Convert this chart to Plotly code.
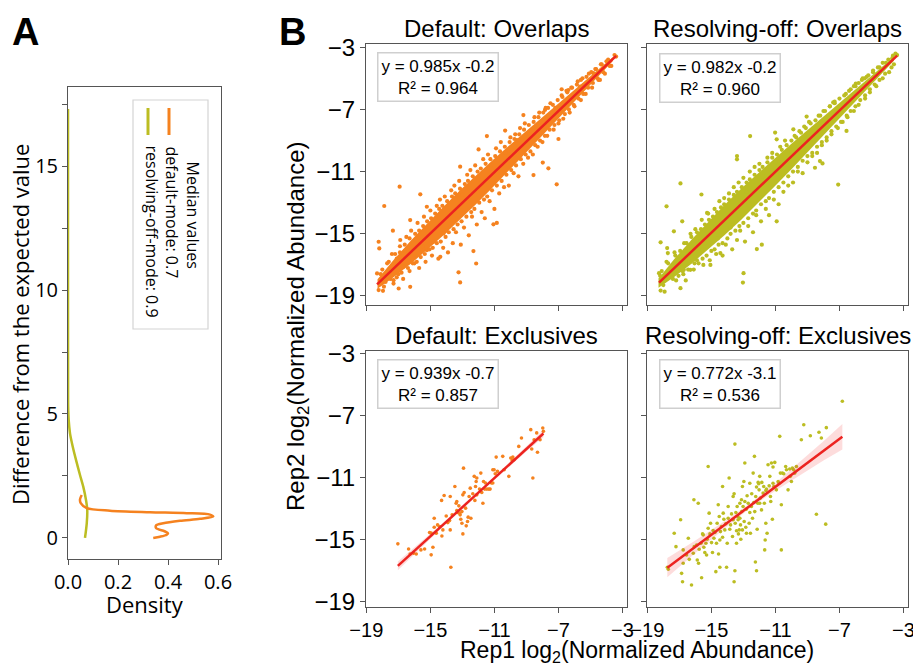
import plotly.graph_objects as go

# ---------------- Panel A data (density curves) ----------------
default_diff = [0.0, 0.05, 0.13, 0.19, 0.27, 0.39, 0.5, 0.59, 0.69, 0.77, 0.86, 0.94, 1.0, 1.04, 1.1, 1.2, 1.4, 1.56, 1.73]
default_density = [0.341, 0.368, 0.395, 0.40, 0.386, 0.353, 0.352, 0.381, 0.448, 0.528, 0.581, 0.568, 0.475, 0.328, 0.168, 0.075, 0.051, 0.048, 0.055]
resolving_diff = [0.0, 0.59, 1.13, 1.53, 2.07, 2.54, 3.15, 3.68, 4.22, 4.76, 5.29, 6.5, 8.0, 10.0, 13.0, 17.3]
resolving_density = [0.068, 0.075, 0.077, 0.072, 0.061, 0.048, 0.032, 0.019, 0.008, 0.0027, 0.0007, 0.0003, 0.0001, 0.0, 0.0, 0.0]
median_names = ["default-mode", "resolving-off-mode"]
median_values = [0.7, 0.9]

# ---------------- Panel B data ----------------
panel_titles = ["Default: Overlaps", "Resolving-off: Overlaps", "Default: Exclusives", "Resolving-off: Exclusives"]
fit_slope = [0.985, 0.982, 0.939, 0.772]
fit_intercept = [-0.2, -0.2, -0.7, -3.1]
fit_r2 = [0.964, 0.960, 0.857, 0.536]
axis_ticks = [-19, -15, -11, -7, -3]

# dense core of the overlap clouds (x, lower edge, upper edge)
tl_core_x = [-18.3, -17.3, -16.2, -15.2, -14.2, -13.1, -12.1, -11.1, -10.0, -9.0, -7.9, -6.9, -5.8, -4.8, -3.6]
tl_core_lo = [-18.53, -17.79, -16.91, -16.02, -15.11, -14.05, -13.05, -12.01, -10.85, -9.77, -8.56, -7.47, -6.29, -5.21, -3.88]
tl_core_hi = [-17.93, -16.69, -15.41, -14.32, -13.27, -12.15, -11.19, -10.25, -9.25, -8.37, -7.40, -6.53, -5.53, -4.65, -3.62]
tr_core_x = [-18.3, -17.3, -16.2, -15.2, -14.2, -13.1, -12.1, -11.1, -10.0, -9.0, -7.9, -6.9, -5.8, -4.8, -3.6]
tr_core_lo = [-18.47, -17.77, -16.89, -16.03, -15.11, -14.06, -13.05, -12.0, -10.84, -9.76, -8.56, -7.46, -6.28, -5.19, -3.87]
tr_core_hi = [-17.87, -16.61, -15.33, -14.23, -13.17, -12.06, -11.11, -10.2, -9.2, -8.32, -7.36, -6.5, -5.52, -4.63, -3.61]

tl_points = [
    (-17.88, -13.21), (-16.92, -11.97), (-18.23, -15.51), (-18.19, -15.94), (-18.33, -17.55), (-18.23, -18.62),
    (-17.96, -18.67), (-17.34, -14.80), (-15.63, -12.46), (-15.22, -13.26), (-13.14, -10.68), (-11.99, -9.57),
    (-11.47, -8.71), (-10.33, -8.36), (-13.24, -17.48), (-13.14, -18.13), (-12.31, -16.11), (-12.14, -16.91),
    (-11.06, -14.39), (-8.56, -11.22), (-7.98, -10.42), (-7.63, -10.79), (-7.0, -8.9), (-7.11, -11.82),
    (-6.8, -5.70), (-4.41, -5.10), (-9.19, -7.36), (-7.84, -7.03), (-16.98, -18.52), (-16.26, -18.41),
    (-17.3, -17.98), (-16.67, -17.12), (-14.38, -16.48), (-15.22, -16.05), (-14.18, -14.97), (-16.26, -14.12),
    (-16.88, -15.4), (-10.85, -14.3), (-6.38, -5.75), (-5.65, -5.53), (-4.82, -4.67), (-7.84, -8.1), (-9.6, -8.97),
    (-18.1, -17.6), (-17.9, -18.4), (-17.7, -16.9), (-17.6, -17.5), (-17.4, -16.3), (-17.3, -18.2), (-17.1, -16.6),
    (-17.0, -17.6), (-16.9, -15.8), (-16.7, -17.9), (-16.6, -16.1), (-16.5, -15.2), (-16.3, -17.4), (-16.2, -14.8),
    (-16.0, -16.9), (-15.9, -15.4), (-15.8, -14.3), (-15.7, -17.2), (-15.5, -15.8), (-15.4, -13.9), (-15.3, -16.8),
    (-15.1, -14.6), (-15.0, -13.5), (-14.9, -16.4), (-14.8, -15.5), (-14.6, -13.2), (-14.5, -16.6), (-14.4, -12.8),
    (-14.2, -15.9), (-14.1, -12.6), (-14.0, -14.8), (-13.9, -16.2), (-13.7, -12.2), (-13.6, -15.6), (-13.5, -11.9),
    (-13.4, -14.9), (-13.2, -11.6), (-13.1, -15.7), (-13.0, -12.5), (-12.9, -14.6), (-12.7, -11.2), (-12.6, -15.1),
    (-12.5, -10.9), (-12.4, -13.9), (-12.2, -10.6), (-12.1, -14.4), (-12.0, -11.5), (-11.8, -13.6), (-11.7, -10.2),
    (-11.6, -14.0), (-11.4, -9.9), (-11.3, -12.9), (-11.2, -10.6), (-11.0, -13.4), (-10.9, -9.5), (-10.7, -12.4),
    (-10.6, -9.1), (-10.4, -12.0), (-10.3, -9.8), (-10.1, -11.9), (-10.0, -8.8), (-9.8, -11.1), (-9.7, -8.6),
    (-9.5, -11.3), (-9.4, -8.2), (-9.2, -10.5), (-9.1, -7.9), (-8.9, -10.1), (-8.8, -8.6), (-8.6, -9.9), (-8.5, -7.5),
    (-8.3, -9.4), (-8.2, -7.2), (-8.0, -9.1), (-7.8, -6.9), (-7.7, -8.7), (-7.5, -6.6), (-7.3, -8.3), (-7.2, -6.9),
    (-7.0, -7.9), (-6.8, -6.1), (-6.7, -7.6), (-6.5, -5.8), (-6.3, -7.2), (-6.2, -5.6), (-6.0, -6.8), (-5.8, -5.2),
    (-5.6, -6.4), (-5.5, -5.0), (-5.3, -6.0), (-5.1, -4.7), (-4.9, -5.6), (-4.7, -4.4), (-4.5, -5.1), (-4.3, -4.1),
    (-4.1, -4.7), (-3.9, -3.8), (-3.7, -4.2), (-3.5, -3.5), (-3.4, -3.6),
    (-18.0, -17.3), (-17.8, -18.1), (-17.6, -16.8), (-17.5, -17.9), (-17.2, -16.3), (-17.1, -17.8), (-16.9, -16.2),
    (-16.8, -17.5), (-16.6, -15.7), (-16.4, -17.2), (-16.3, -15.3), (-16.1, -16.9), (-15.95, -15.0), (-15.85, -16.8),
    (-15.7, -14.8), (-15.6, -16.5), (-15.45, -14.5), (-15.35, -16.3), (-15.2, -14.2), (-15.05, -16.0), (-14.95, -14.0),
    (-14.85, -15.9), (-14.7, -13.7), (-14.6, -15.6), (-14.45, -13.4), (-14.35, -15.5), (-14.25, -13.2), (-14.05, -15.2),
    (-13.95, -12.9), (-13.85, -14.9), (-13.65, -12.6), (-13.55, -14.7), (-13.45, -12.4), (-13.3, -14.4), (-13.15, -12.1),
    (-13.05, -14.2), (-12.85, -11.8), (-12.75, -13.9), (-12.65, -11.6), (-12.45, -13.6), (-12.35, -11.3), (-12.25, -13.4),
    (-12.05, -11.0), (-11.95, -13.0), (-11.85, -10.8), (-11.65, -12.8), (-11.55, -10.5), (-11.45, -12.6), (-11.25, -10.2),
    (-11.15, -12.2), (-10.95, -10.0), (-10.85, -11.9), (-10.65, -9.7), (-10.55, -11.6), (-10.35, -9.4), (-10.25, -11.2),
    (-10.05, -9.1), (-9.95, -10.9), (-9.75, -8.9), (-9.65, -10.6), (-9.45, -8.6), (-9.35, -10.2), (-9.15, -8.3),
    (-9.05, -9.9), (-8.85, -8.0), (-8.75, -9.7), (-8.55, -7.8), (-8.45, -9.3), (-8.25, -7.5), (-8.15, -9.0),
    (-7.95, -7.2), (-7.85, -8.7), (-7.65, -6.9), (-7.55, -8.3), (-7.35, -6.7), (-7.25, -8.0), (-7.05, -6.4),
    (-6.95, -7.7), (-6.75, -6.2), (-6.6, -7.3), (-6.45, -5.9), (-6.35, -7.0), (-6.15, -5.6), (-6.05, -6.7),
    (-5.85, -5.4), (-5.75, -6.3), (-5.6, -5.1), (-5.45, -6.0), (-5.25, -4.9), (-5.15, -5.6), (-4.95, -4.6),
    (-4.85, -5.3), (-4.65, -4.4), (-4.55, -5.0), (-4.35, -4.1), (-4.2, -4.6), (-4.0, -3.9), (-3.8, -4.2),
]

tr_points = [
    (-17.8, -13.23), (-16.93, -11.76), (-18.17, -15.55), (-17.76, -15.92), (-17.72, -16.24), (-18.27, -17.53),
    (-18.17, -18.65), (-17.92, -18.72), (-17.34, -14.84), (-15.62, -12.47), (-15.27, -13.66), (-13.40, -10.0),
    (-12.58, -8.71), (-11.02, -8.49), (-10.92, -8.92), (-9.88, -8.28), (-12.99, -17.53), (-13.03, -18.14),
    (-12.16, -15.98), (-11.85, -15.7), (-10.92, -14.2), (-8.53, -10.75), (-8.22, -10.32), (-8.06, -10.47),
    (-7.08, -11.83), (-6.56, -8.38), (-7.39, -6.55), (-5.98, -5.33), (-5.42, -5.0), (-9.05, -7.46),
    (-16.72, -17.32), (-16.31, -17.32), (-16.93, -18.5), (-15.06, -17.0), (-14.44, -16.24), (-15.58, -16.03),
    (-16.82, -14.2), (-13.4, -10.21), (-3.66, -3.54),
    (-18.2, -17.7), (-18.0, -18.3), (-17.8, -16.8), (-17.5, -17.6), (-17.3, -16.2), (-17.2, -18.0), (-17.0, -16.5),
    (-16.8, -17.4), (-16.7, -15.6), (-16.6, -18.0), (-16.4, -16.0), (-16.3, -15.0), (-16.1, -17.3), (-16.0, -14.7),
    (-15.9, -16.7), (-15.7, -15.3), (-15.6, -14.1), (-15.5, -17.0), (-15.4, -15.6), (-15.2, -13.7), (-15.1, -16.7),
    (-15.0, -14.5), (-14.8, -13.4), (-14.7, -16.3), (-14.6, -15.3), (-14.5, -12.9), (-14.3, -16.4), (-14.2, -12.7),
    (-14.1, -15.7), (-13.9, -12.4), (-13.8, -14.6), (-13.7, -16.0), (-13.6, -12.0), (-13.4, -15.4), (-13.3, -11.7),
    (-13.2, -14.8), (-13.0, -11.4), (-12.9, -15.5), (-12.8, -12.3), (-12.7, -14.5), (-12.6, -11.0), (-12.4, -14.9),
    (-12.3, -10.7), (-12.2, -13.8), (-12.0, -10.5), (-11.9, -14.2), (-11.8, -11.3), (-11.6, -13.4), (-11.5, -10.1),
    (-11.4, -13.8), (-11.2, -9.8), (-11.1, -12.8), (-11.0, -10.4), (-10.8, -13.1), (-10.7, -9.4), (-10.5, -12.3),
    (-10.4, -9.0), (-10.2, -11.9), (-10.1, -9.6), (-9.9, -11.7), (-9.8, -8.7), (-9.6, -11.0), (-9.5, -8.4),
    (-9.3, -11.1), (-9.2, -8.1), (-9.0, -10.4), (-8.9, -7.8), (-8.7, -10.0), (-8.6, -8.4), (-8.4, -9.8), (-8.3, -7.4),
    (-8.1, -9.3), (-8.0, -7.1), (-7.8, -9.0), (-7.6, -6.8), (-7.5, -8.6), (-7.3, -6.5), (-7.1, -8.2), (-7.0, -6.8),
    (-6.8, -7.8), (-6.6, -6.0), (-6.5, -7.5), (-6.3, -5.7), (-6.1, -7.1), (-6.0, -5.5), (-5.8, -6.7), (-5.6, -5.1),
    (-5.4, -6.3), (-5.3, -4.9), (-5.1, -5.9), (-4.9, -4.6), (-4.7, -5.5), (-4.5, -4.3), (-4.3, -5.0), (-4.1, -4.0),
    (-3.9, -4.6), (-3.7, -3.7), (-3.6, -4.1), (-3.5, -3.4), (-3.4, -3.5),
    (-18.1, -17.4), (-17.9, -18.0), (-17.7, -16.9), (-17.4, -17.9), (-17.25, -16.4), (-17.05, -17.7), (-16.95, -16.1),
    (-16.75, -17.6), (-16.55, -15.6), (-16.45, -17.3), (-16.25, -15.2), (-16.05, -16.9), (-15.9, -14.9), (-15.8, -16.9),
    (-15.65, -14.7), (-15.55, -16.6), (-15.4, -14.4), (-15.3, -16.4), (-15.15, -14.1), (-15.0, -16.1), (-14.9, -13.9),
    (-14.8, -16.0), (-14.65, -13.6), (-14.55, -15.7), (-14.4, -13.3), (-14.3, -15.6), (-14.2, -13.1), (-14.0, -15.3),
    (-13.9, -12.8), (-13.8, -15.0), (-13.6, -12.5), (-13.5, -14.8), (-13.4, -12.3), (-13.25, -14.5), (-13.1, -12.0),
    (-13.0, -14.3), (-12.8, -11.7), (-12.7, -14.0), (-12.6, -11.5), (-12.4, -13.7), (-12.3, -11.2), (-12.2, -13.5),
    (-12.0, -10.9), (-11.9, -13.1), (-11.8, -10.7), (-11.6, -12.9), (-11.5, -10.4), (-11.4, -12.7), (-11.2, -10.1),
    (-11.1, -12.3), (-10.9, -9.9), (-10.8, -12.0), (-10.6, -9.6), (-10.5, -11.7), (-10.3, -9.3), (-10.2, -11.3),
    (-10.0, -9.0), (-9.9, -11.0), (-9.7, -8.8), (-9.6, -10.7), (-9.4, -8.5), (-9.3, -10.3), (-9.1, -8.2),
    (-9.0, -10.0), (-8.8, -7.9), (-8.7, -9.8), (-8.5, -7.7), (-8.4, -9.4), (-8.2, -7.4), (-8.1, -9.1),
    (-7.9, -7.1), (-7.8, -8.8), (-7.6, -6.8), (-7.5, -8.4), (-7.3, -6.6), (-7.2, -8.1), (-7.0, -6.3),
    (-6.9, -7.8), (-6.7, -6.1), (-6.55, -7.4), (-6.4, -5.8), (-6.3, -7.1), (-6.1, -5.5), (-6.0, -6.8),
    (-5.8, -5.3), (-5.7, -6.4), (-5.55, -5.0), (-5.4, -6.1), (-5.2, -4.8), (-5.1, -5.7), (-4.9, -4.5),
    (-4.8, -5.4), (-4.6, -4.3), (-4.5, -5.1), (-4.3, -4.0), (-4.15, -4.7), (-3.95, -3.8), (-3.75, -4.3),
]

bl_points = [
    (-17.03, -15.27), (-16.36, -15.6), (-16.26, -15.92), (-16.05, -15.88), (-15.88, -15.92), (-15.59, -15.66),
    (-15.36, -15.6), (-14.95, -15.98), (-14.84, -15.49), (-15.05, -14.54), (-14.95, -14.58), (-14.76, -14.2),
    (-14.76, -13.62), (-14.63, -14.58), (-14.55, -14.05), (-14.43, -14.15), (-14.28, -14.76), (-14.22, -14.37),
    (-14.3, -12.47), (-14.14, -12.15), (-14.01, -13.47), (-13.91, -13.9), (-13.8, -13.77), (-13.76, -12.22),
    (-13.76, -14.37), (-13.72, -16.78), (-13.64, -13.4), (-13.47, -11.57), (-13.39, -12.65), (-13.35, -12.54),
    (-13.35, -13.12), (-13.3, -13.25), (-13.22, -12.82), (-13.18, -13.29), (-13.14, -13.4), (-13.1, -13.68),
    (-13.03, -13.19), (-13.03, -13.94), (-12.97, -12.11), (-12.97, -14.63), (-12.93, -10.39), (-12.89, -11.96),
    (-12.8, -12.97), (-12.76, -14.11), (-12.68, -13.83), (-12.64, -13.55), (-12.58, -12.22), (-12.51, -11.68),
    (-12.47, -13.62), (-12.35, -12.04), (-12.26, -10.92), (-12.22, -12.47), (-12.18, -11.57), (-12.14, -11.25),
    (-12.1, -11.03), (-12.1, -12.11), (-11.93, -11.74), (-11.85, -10.71), (-11.79, -11.96), (-11.72, -12.65),
    (-11.68, -11.25), (-11.6, -11.74), (-11.56, -11.35), (-11.47, -11.74), (-11.35, -11.74), (-11.27, -11.74),
    (-11.18, -11.35), (-11.1, -11.35), (-11.1, -10.49), (-11.02, -10.49), (-10.95, -10.75), (-10.89, -9.68),
    (-10.81, -10.6), (-10.48, -9.63), (-10.39, -10.49), (-10.1, -10.92), (-9.98, -9.74), (-9.89, -9.89),
    (-9.85, -9.68), (-9.77, -9.85), (-9.48, -8.99), (-9.31, -8.45), (-8.73, -7.91), (-8.67, -9.16), (-8.6, -11.03),
    (-8.52, -8.56), (-8.36, -8.12), (-8.31, -9.37), (-7.98, -7.8), (-7.94, -8.02), (-8.15, -8.56),
]

br_points = [
    (-17.75, -16.78), (-17.69, -16.91), (-17.32, -14.59), (-17.21, -15.45), (-16.92, -13.72), (-16.86, -17.17),
    (-16.80, -17.71), (-16.76, -15.66), (-16.76, -16.52), (-16.55, -15.99), (-16.44, -14.91), (-16.38, -16.27),
    (-16.24, -17.92), (-16.13, -15.88), (-16.09, -12.43), (-16.07, -15.45), (-15.92, -15.34), (-15.88, -16.31),
    (-15.82, -12.65), (-15.80, -16.52), (-15.76, -15.62), (-15.65, -15.23), (-15.61, -17.45), (-15.55, -14.63),
    (-15.51, -14.69), (-15.47, -15.49), (-15.41, -15.83), (-15.34, -15.23), (-15.30, -15.99), (-15.26, -14.97),
    (-15.20, -10.28), (-15.20, -14.26), (-15.14, -13.29), (-15.09, -14.63), (-15.05, -13.94), (-14.99, -15.19),
    (-14.93, -15.83), (-14.89, -14.41), (-14.84, -14.91), (-14.78, -14.54), (-14.72, -17.06), (-14.68, -15.23),
    (-14.64, -13.94), (-14.57, -12.75), (-14.55, -15.92), (-14.51, -13.51), (-14.47, -16.78), (-14.47, -15.02),
    (-14.43, -14.48), (-14.37, -14.15), (-14.30, -11.57), (-14.30, -14.84), (-14.26, -13.29), (-14.22, -13.68),
    (-14.16, -14.37), (-14.10, -13.98), (-14.05, -16.78), (-14.01, -15.23), (-13.95, -13.62), (-13.95, -12.86),
    (-13.89, -11.03), (-13.85, -14.33), (-13.80, -14.05), (-13.74, -13.34), (-13.68, -14.80), (-13.64, -12.22),
    (-13.64, -13.72), (-13.58, -12.04), (-13.58, -17.71), (-13.53, -17.00), (-13.53, -8.84), (-13.51, -13.94),
    (-13.47, -13.25), (-13.43, -14.43), (-13.43, -15.23), (-13.39, -12.86), (-13.35, -13.51), (-13.33, -13.72),
    (-13.31, -14.63), (-13.26, -14.37), (-13.22, -12.65), (-13.22, -13.62), (-13.18, -14.05), (-13.16, -14.97),
    (-13.12, -12.43), (-13.10, -13.19), (-13.06, -11.57), (-13.06, -14.37), (-13.02, -12.86), (-12.97, -11.25),
    (-12.95, -13.83), (-12.91, -10.06), (-12.91, -12.54), (-12.85, -14.20), (-12.81, -14.59), (-12.81, -13.03),
    (-12.77, -12.17), (-12.70, -12.65), (-12.64, -13.94), (-12.60, -11.36), (-12.60, -13.25), (-12.56, -14.59),
    (-12.50, -12.86), (-12.48, -12.04), (-12.43, -13.62), (-12.39, -10.71), (-12.35, -12.60), (-12.31, -9.63),
    (-12.29, -13.19), (-12.25, -16.44), (-12.23, -12.22), (-12.18, -11.61), (-12.18, -17.00), (-12.14, -14.33),
    (-12.10, -12.65), (-12.08, -11.31), (-12.04, -11.40), (-12.02, -11.79), (-11.98, -12.65), (-11.98, -10.92),
    (-11.94, -12.32), (-11.87, -13.08), (-11.85, -11.31), (-11.77, -12.00), (-11.73, -11.57), (-11.69, -12.65),
    (-11.67, -15.66), (-11.64, -15.02), (-11.60, -13.94), (-11.60, -11.83), (-11.56, -11.74), (-11.52, -14.59),
    (-11.46, -10.17), (-11.39, -11.53), (-11.35, -10.92), (-11.31, -12.22), (-11.29, -12.54), (-11.25, -10.06),
    (-11.19, -13.68), (-11.15, -11.36), (-11.15, -10.32), (-11.10, -11.57), (-11.04, -10.02), (-10.94, -11.79),
    (-10.83, -11.25), (-10.77, -11.36), (-10.73, -8.34), (-10.69, -10.71), (-10.63, -15.66), (-10.63, -12.75),
    (-10.56, -10.71), (-10.48, -10.75), (-10.36, -10.28), (-10.31, -10.49), (-10.21, -11.79), (-10.11, -10.45),
    (-10.07, -10.92), (-10.00, -11.25), (-9.94, -10.39), (-9.86, -10.49), (-9.79, -10.71), (-9.69, -10.28),
    (-9.38, -8.56), (-9.23, -7.59), (-8.82, -8.30), (-8.44, -13.36), (-8.28, -8.08), (-8.13, -8.45),
    (-7.86, -14.00), (-7.82, -7.78), (-6.82, -6.08),
]

# confidence band half-widths
bl_ci_x = [-17.03, -15.5, -14.0, -12.0, -10.0, -8.9, -7.94]
bl_ci_half = [0.28, 0.18, 0.12, 0.08, 0.12, 0.17, 0.24]
br_ci_x = [-17.75, -16.0, -14.0, -12.5, -11.0, -9.5, -8.0, -6.82]
br_ci_half = [0.62, 0.4, 0.22, 0.15, 0.25, 0.42, 0.62, 0.82]

# ---------------- styling ----------------
W, H = 913, 666
ORANGE = "#f5821f"
OLIVE = "#bcbd22"
RED = "#ec2320"
SPINE = "#555555"
FONT_A = "Open Sans, sans-serif"
FONT_B = "Liberation Sans, Arial, sans-serif"


def dx(a, b):
    return [a / W, b / W]


def dy(top, bottom):
    return [1 - bottom / H, 1 - top / H]


def px(x):
    return x / W


def py(y):
    return 1 - y / H


fig = go.Figure()

# ---------------- Panel A ----------------
fig.add_trace(go.Scatter(x=resolving_density, y=resolving_diff, mode="lines",
                         line=dict(color=OLIVE, width=2.5, shape="spline", smoothing=0.8),
                         xaxis="x", yaxis="y", showlegend=False, hoverinfo="skip"))
fig.add_trace(go.Scatter(x=default_density, y=default_diff, mode="lines",
                         line=dict(color=ORANGE, width=2.5, shape="spline", smoothing=0.8),
                         xaxis="x", yaxis="y", showlegend=False, hoverinfo="skip"))


# ---------------- Panel B ----------------
def add_panel(n, pts, color, idx, msize, core=None, ci=None):
    xa, ya = "x%d" % n, "y%d" % n
    xs = [p[0] for p in pts]
    ys = [p[1] for p in pts]
    s, b = fit_slope[idx], fit_intercept[idx]
    if core is not None:
        cx, clo, chi = core
        fig.add_trace(go.Scatter(x=cx + cx[::-1], y=chi + clo[::-1], mode="lines", fill="toself",
                                 fillcolor=color, line=dict(width=0, color=color),
                                 xaxis=xa, yaxis=ya, showlegend=False, hoverinfo="skip"))
    fig.add_trace(go.Scatter(x=xs, y=ys, mode="markers",
                             marker=dict(color=color, size=msize, line=dict(width=0)),
                             xaxis=xa, yaxis=ya, showlegend=False, hoverinfo="skip"))
    if ci is not None:
        cx, ch = ci
        up = [s * x + b + h for x, h in zip(cx, ch)]
        lo = [s * x + b - h for x, h in zip(cx, ch)]
        fig.add_trace(go.Scatter(x=cx + cx[::-1], y=up + lo[::-1], mode="lines", fill="toself",
                                 fillcolor="rgba(240,40,40,0.16)", line=dict(width=0),
                                 xaxis=xa, yaxis=ya, showlegend=False, hoverinfo="skip"))
    lx = [min(xs), max(xs)]
    fig.add_trace(go.Scatter(x=lx, y=[s * x + b for x in lx], mode="lines",
                             line=dict(color=RED, width=2.5),
                             xaxis=xa, yaxis=ya, showlegend=False, hoverinfo="skip"))


add_panel(2, tl_points, ORANGE, 0, 4.2, core=(tl_core_x, tl_core_lo, tl_core_hi))
add_panel(3, tr_points, OLIVE, 1, 4.2, core=(tr_core_x, tr_core_lo, tr_core_hi))
add_panel(4, bl_points, ORANGE, 2, 3.6, ci=(bl_ci_x, bl_ci_half))
add_panel(5, br_points, OLIVE, 3, 3.6, ci=(br_ci_x, br_ci_half))

axis_common = dict(showline=True, linecolor=SPINE, linewidth=1, mirror=True, ticks="outside",
                   ticklen=5, tickcolor=SPINE, tickwidth=1, showgrid=False, zeroline=False,
                   automargin=False, ticklabeloverflow="allow")

layout = dict(
    width=W, height=H, margin=dict(l=0, r=0, t=0, b=0, pad=0, autoexpand=False),
    paper_bgcolor="white", plot_bgcolor="white", showlegend=False,
    xaxis=dict(domain=dx(68, 221), range=[0, 0.612], tickvals=[0, 0.2, 0.4, 0.6], tickformat=".1f",
               tickfont=dict(family=FONT_A, size=20, color="black"), anchor="y", **axis_common),
    yaxis=dict(domain=dy(87, 559), range=[-0.85, 18.19], tickvals=[0, 5, 10, 15],
               minor=dict(tickvals=[2.5, 7.5, 12.5, 17.5], ticks="outside", ticklen=5, tickcolor=SPINE),
               tickfont=dict(family=FONT_A, size=20, color="black"), anchor="x", **axis_common),
)

panel_geo = [
    # n, x0, x1, top, bottom, yrange, show x labels, show y labels
    (2, 366, 627, 44, 305, [-19.58, -2.79], False, True),
    (3, 647, 908, 44, 305, [-19.58, -2.79], False, False),
    (4, 366, 627, 351, 607, [-19.34, -2.84], True, True),
    (5, 647, 908, 351, 607, [-19.34, -2.84], True, False),
]
for n, x0, x1, top, bot, yr, sx, sy in panel_geo:
    layout["xaxis%d" % n] = dict(domain=dx(x0, x1), range=[-19.02, -2.72], tickvals=axis_ticks,
                                 showticklabels=sx, tickfont=dict(family=FONT_B, size=20, color="black"),
                                 anchor="y%d" % n, **axis_common)
    layout["yaxis%d" % n] = dict(domain=dy(top, bot), range=yr, tickvals=axis_ticks,
                                 showticklabels=sy, tickfont=dict(family=FONT_B, size=24, color="black"),
                                 anchor="x%d" % n, **axis_common)

annotations = []
# panel letters
annotations.append(dict(text="<b>A</b>", x=px(25), y=py(32), xref="paper", yref="paper", showarrow=False,
                        font=dict(family=FONT_B, size=38, color="black"), xanchor="center", yanchor="middle"))
annotations.append(dict(text="<b>B</b>", x=px(292), y=py(32), xref="paper", yref="paper", showarrow=False,
                        font=dict(family=FONT_B, size=38, color="black"), xanchor="center", yanchor="middle"))
# panel A axis titles
annotations.append(dict(text="Difference from the expected value", x=px(20), y=py(325), xref="paper", yref="paper",
                        showarrow=False, textangle=-90, font=dict(family=FONT_A, size=22, color="black"),
                        xanchor="center", yanchor="middle"))
annotations.append(dict(text="Density", x=px(144.5), y=py(604), xref="paper", yref="paper",
                        showarrow=False, font=dict(family=FONT_A, size=22, color="black"),
                        xanchor="center", yanchor="middle"))
# panel A rotated legend
annotations.append(dict(text="Median values", x=px(192), y=py(214.5), xref="paper", yref="paper",
                        showarrow=False, textangle=90, font=dict(family=FONT_A, size=16, color="black"),
                        xanchor="center", yanchor="middle"))
leg_x = [172, 151]
leg_y = [212.5, 231.5]
for name, val, lx, ly in zip(median_names, median_values, leg_x, leg_y):
    annotations.append(dict(text="%s: %.1f" % (name, val), x=px(lx), y=py(ly), xref="paper", yref="paper",
                            showarrow=False, textangle=90, font=dict(family=FONT_A, size=16, color="black"),
                            xanchor="center", yanchor="middle"))

# panel B titles and equation boxes
title_pos = [(496.5, 28), (777.5, 28), (496.5, 336), (777.5, 336)]
box_pos = [(438, 77.5), (720, 78.5), (438, 383.5), (720, 384)]
for i in range(4):
    annotations.append(dict(text=panel_titles[i], x=px(title_pos[i][0]), y=py(title_pos[i][1]),
                            xref="paper", yref="paper", showarrow=False,
                            font=dict(family=FONT_B, size=24, color="black"), xanchor="center", yanchor="middle"))
    eq = "y = %.3fx %.1f<br>R² = %.3f" % (fit_slope[i], fit_intercept[i], fit_r2[i])
    annotations.append(dict(text=eq, x=px(box_pos[i][0]), y=py(box_pos[i][1]), xref="paper", yref="paper",
                            showarrow=False, font=dict(family=FONT_B, size=17, color="black"),
                            bgcolor="white", bordercolor="#cfcfcf", borderwidth=1.5, borderpad=3,
                            align="center", xanchor="center", yanchor="middle"))
# panel B shared axis titles
annotations.append(dict(text="Rep2 log<sub>2</sub>(Normalized Abundance)", x=px(297), y=py(326),
                        xref="paper", yref="paper", showarrow=False, textangle=-90,
                        font=dict(family=FONT_B, size=24, color="black"), xanchor="center", yanchor="middle"))
annotations.append(dict(text="Rep1 log<sub>2</sub>(Normalized Abundance)", x=px(636.5), y=py(651),
                        xref="paper", yref="paper", showarrow=False,
                        font=dict(family=FONT_B, size=23, color="black"), xanchor="center", yanchor="middle"))
layout["annotations"] = annotations

shapes = [
    dict(type="rect", xref="paper", yref="paper", x0=px(133), x1=px(208), y0=py(329), y1=py(100),
         line=dict(color="#d4d4d4", width=1.2), fillcolor="white", layer="above"),
    dict(type="line", xref="paper", yref="paper", x0=px(169), x1=px(169), y0=py(108), y1=py(135),
         line=dict(color=ORANGE, width=3), layer="above"),
    dict(type="line", xref="paper", yref="paper", x0=px(148), x1=px(148), y0=py(108), y1=py(135),
         line=dict(color=OLIVE, width=3), layer="above"),
]
layout["shapes"] = shapes

fig.update_layout(**layout)
fig.write_html("out.html")
